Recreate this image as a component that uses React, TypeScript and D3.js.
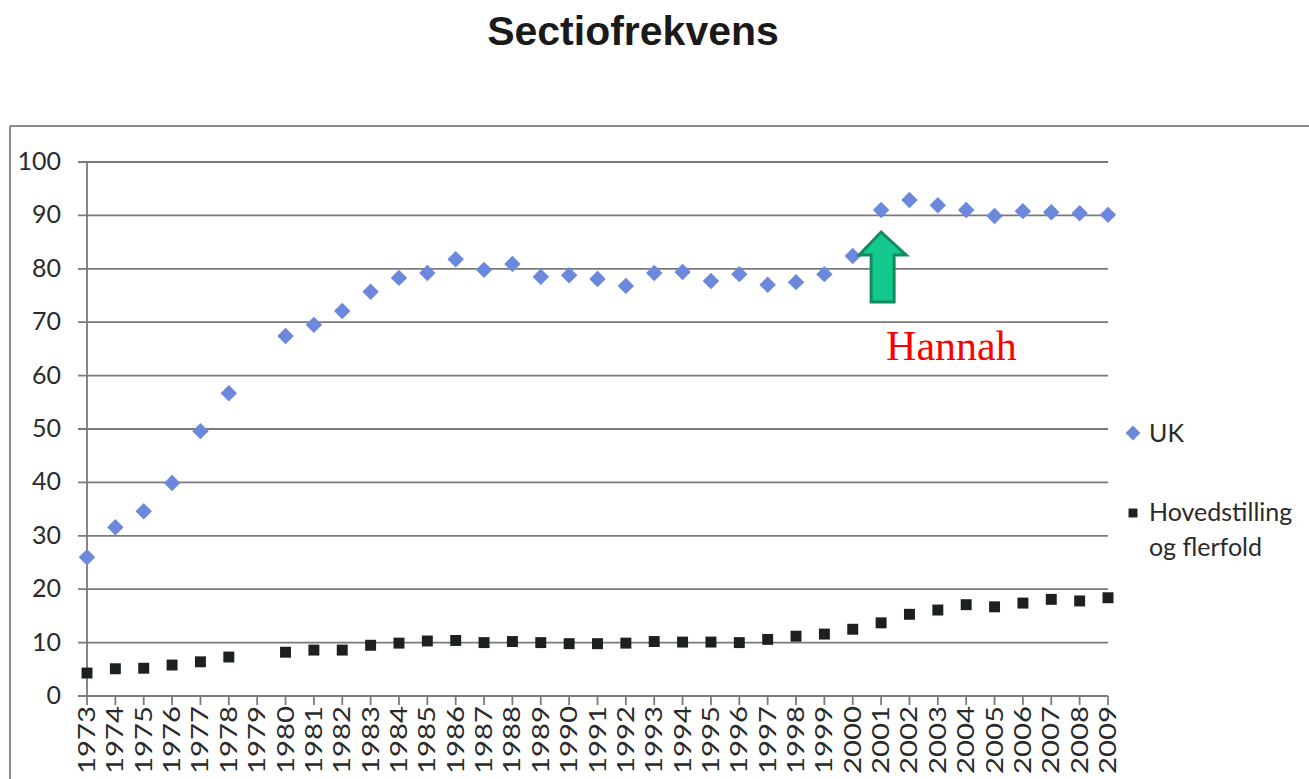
import React from "react";
import * as d3 from "d3";

const years: number[] = d3.range(1973, 2010);
const ukValues: (number | null)[] = [
  26.0, 31.6, 34.6, 39.9, 49.6, 56.7, null, 67.4, 69.5, 72.1, 75.7, 78.3, 79.2,
  81.8, 79.8, 80.9, 78.5, 78.8, 78.1, 76.8, 79.2, 79.4, 77.7, 79.0, 77.0, 77.5,
  79.0, 82.4, 91.0, 92.9, 91.9, 91.0, 89.9, 90.8, 90.6, 90.4, 90.1,
];
const hovedValues: (number | null)[] = [
  4.3, 5.1, 5.2, 5.8, 6.4, 7.3, null, 8.2, 8.6, 8.6, 9.5, 9.9, 10.3, 10.4, 10.0,
  10.2, 10.0, 9.8, 9.8, 9.9, 10.2, 10.1, 10.1, 10.0, 10.6, 11.2, 11.6, 12.5,
  13.7, 15.3, 16.1, 17.1, 16.7, 17.4, 18.1, 17.8, 18.4,
];
const yTicks: number[] = [0, 10, 20, 30, 40, 50, 60, 70, 80, 90, 100];
const seriesNames: string[] = ["UK", "Hovedstilling", "og flerfold"];
const title = "Sectiofrekvens";
const annotation = "Hannah";
const annotationYear = 2001;

export default function App() {
  const x = d3.scaleLinear().domain([1973, 2009]).range([87, 1108]);
  const y = d3.scaleLinear().domain([0, 100]).range([696, 162]);
  const diamond = d3.symbol().type(d3.symbolSquare).size(135)();
  const square = d3.symbol().type(d3.symbolSquare).size(120)();
  const ax = x(annotationYear);
  const gridColor = "#7a7a7a";
  const tickFont = "Lato, 'Open Sans', sans-serif";

  return (
    <svg
      width={1309}
      height={779}
      style={{ position: "absolute", left: 0, top: 0, background: "#fff" }}
    >
      {/* frame */}
      <line x1={10} x2={1309} y1={126} y2={126} stroke="#8a8a8a" strokeWidth={2} />
      <line x1={10} x2={10} y1={126} y2={779} stroke="#8a8a8a" strokeWidth={2} />

      <text
        x={633}
        y={45}
        textAnchor="middle"
        fontFamily="'Liberation Sans', Arial, sans-serif"
        fontWeight="bold"
        fontSize={41}
        fill="#1a1a1a"
      >
        {title}
      </text>

      {/* grid lines */}
      {yTicks.map((t) => (
        <g key={t}>
          <line
            x1={78}
            x2={1108}
            y1={y(t)}
            y2={y(t)}
            stroke={gridColor}
            strokeWidth={1.8}
          />
          <text
            x={61}
            y={y(t) + 8}
            textAnchor="end"
            fontFamily={tickFont}
            fontSize={25}
            fill="#2a2a2a"
          >
            {t}
          </text>
        </g>
      ))}
      {/* y axis */}
      <line x1={87} x2={87} y1={y(100)} y2={y(0)} stroke={gridColor} strokeWidth={1.8} />
      {/* x ticks and labels */}
      {years.map((yr) => (
        <g key={yr}>
          <line x1={x(yr)} x2={x(yr)} y1={y(0)} y2={y(0) + 9} stroke={gridColor} strokeWidth={1.8} />
          <text
            transform={`translate(${x(yr) + 8},${y(0) + 10}) rotate(-90)`}
            textAnchor="end"
            fontFamily={tickFont}
            fontSize={23}
            textLength={68}
            lengthAdjust="spacingAndGlyphs"
            fill="#2a2a2a"
          >
            {yr}
          </text>
        </g>
      ))}

      {/* UK series */}
      {years.map((yr, i) =>
        ukValues[i] == null ? null : (
          <path
            key={"uk" + yr}
            d={diamond}
            transform={`translate(${x(yr)},${y(ukValues[i] as number)}) rotate(45)`}
            fill="#6c88dc"
          />
        )
      )}
      {/* Hovedstilling series */}
      {years.map((yr, i) =>
        hovedValues[i] == null ? null : (
          <path
            key={"h" + yr}
            d={square}
            transform={`translate(${x(yr)},${y(hovedValues[i] as number)})`}
            fill="#1c211f"
          />
        )
      )}

      {/* arrow annotation */}
      <path
        d={`M${ax},${232} L${ax + 25},${255} L${ax + 13},${255} L${ax + 13},${302} L${ax - 10},${302} L${ax - 10},${255} L${ax - 22},${255} Z`}
        fill="#14c98f"
        stroke="#0e8c60"
        strokeWidth={3}
        strokeLinejoin="miter"
      />
      <text
        x={ax + 5}
        y={360}
        fontFamily="'Liberation Serif', 'Times New Roman', serif"
        fontSize={42}
        fill="#ff0000"
      >
        {annotation}
      </text>

      {/* legend */}
      <path d={d3.symbol().type(d3.symbolSquare).size(110)()} transform="translate(1133,433) rotate(45)" fill="#6c88dc" />
      <text x={1149} y={442} fontFamily={tickFont} fontSize={25} fill="#2a2a2a">
        {seriesNames[0]}
      </text>
      <path
        d={d3.symbol().type(d3.symbolSquare).size(80)()}
        transform="translate(1133,513)"
        fill="#1c211f"
      />
      <text x={1149} y={521} fontFamily={tickFont} fontSize={25} fill="#2a2a2a">
        {seriesNames[1]}
      </text>
      <text x={1149} y={556} fontFamily={tickFont} fontSize={25} fill="#2a2a2a">
        {seriesNames[2]}
      </text>
    </svg>
  );
}
